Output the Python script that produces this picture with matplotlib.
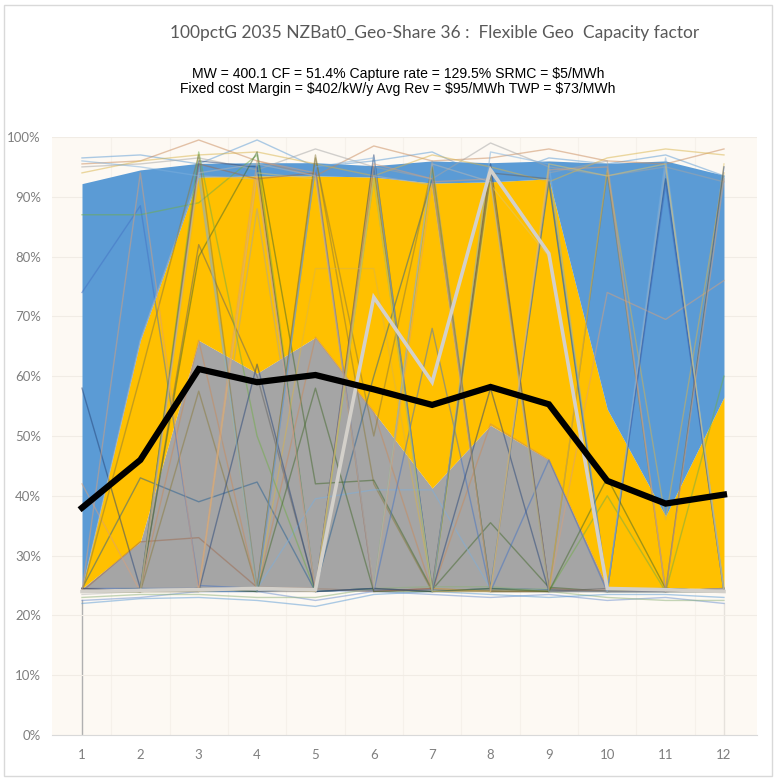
import matplotlib
matplotlib.use("Agg")
import matplotlib.pyplot as plt
from matplotlib.patches import Rectangle
from matplotlib.ticker import PercentFormatter

# Months on the category axis
months = list(range(1, 13))
month_labels = [str(m) for m in months]

# Band boundaries of the capacity-factor distribution (fraction of capacity)
band_base = [0.245, 0.243, 0.242, 0.243, 0.243, 0.240, 0.243, 0.240, 0.241, 0.245, 0.244, 0.245]
grey_top = [0.245, 0.323, 0.660, 0.605, 0.665, 0.540, 0.413, 0.518, 0.460, 0.246, 0.245, 0.246]
yellow_top = [0.246, 0.660, 0.933, 0.935, 0.935, 0.933, 0.923, 0.925, 0.930, 0.545, 0.366, 0.565]
blue_top = [0.922, 0.945, 0.956, 0.957, 0.957, 0.952, 0.960, 0.957, 0.960, 0.956, 0.960, 0.936]

# Monthly average capacity factor
average_cf = [0.380, 0.460, 0.612, 0.590, 0.602, 0.578, 0.552, 0.582, 0.553, 0.425, 0.387, 0.402]

# Highlighted weather year
highlight_year = [0.240, 0.242, 0.243, 0.245, 0.243, 0.732, 0.590, 0.945, 0.805, 0.245, 0.243, 0.240]

# Individual weather years (percent)
weather_years = [
    [96.5, 97.0, 95.5, 99.5, 95.0, 96.0, 97.5, 93.0, 96.5, 95.5, 97.0, 93.5],
    [95.5, 96.0, 99.5, 96.0, 93.5, 98.5, 96.0, 96.5, 98.0, 96.0, 95.5, 98.0],
    [95.0, 95.5, 96.5, 94.5, 98.0, 95.0, 93.0, 99.0, 95.0, 93.5, 95.0, 92.5],
    [94.0, 96.0, 97.0, 97.5, 95.5, 93.5, 97.0, 95.0, 92.5, 96.5, 98.0, 97.0],
    [74.0, 88.5, 25.0, 24.5, 24.0, 24.2, 24.3, 24.0, 24.0, 24.2, 24.5, 24.0],
    [87.0, 87.0, 89.0, 97.0, 24.0, 24.5, 95.0, 24.0, 24.5, 24.0, 24.0, 24.0],
    [24.5, 43.0, 39.0, 42.3, 24.0, 24.5, 24.0, 24.5, 24.3, 24.0, 24.0, 24.2],
    [24.0, 32.3, 33.0, 24.7, 24.5, 24.0, 24.5, 24.0, 24.0, 24.3, 24.5, 24.0],
    [24.5, 24.0, 82.0, 60.0, 24.3, 95.0, 24.5, 94.0, 93.0, 24.5, 24.0, 24.5],
    [24.0, 24.0, 57.5, 24.5, 97.0, 42.0, 24.0, 24.2, 24.0, 94.0, 24.0, 24.0],
    [58.0, 24.5, 96.0, 95.0, 24.0, 97.0, 24.0, 95.5, 24.5, 24.0, 93.0, 24.0],
    [24.0, 24.5, 80.0, 97.5, 42.0, 42.6, 24.3, 35.5, 24.7, 24.0, 24.5, 24.0],
    [24.0, 24.0, 95.0, 24.5, 39.5, 41.0, 41.0, 24.5, 93.0, 24.0, 24.0, 24.0],
    [42.0, 24.0, 24.5, 96.0, 94.0, 24.0, 92.5, 93.0, 24.0, 74.0, 69.5, 76.0],
    [24.0, 66.0, 93.5, 93.0, 24.5, 93.5, 92.0, 24.0, 24.5, 24.0, 95.0, 24.5],
    [24.5, 24.0, 24.0, 94.0, 93.0, 24.5, 24.0, 92.0, 80.0, 24.0, 24.0, 95.5],
    [22.5, 23.0, 24.0, 24.0, 22.5, 24.0, 23.5, 23.0, 23.5, 22.5, 23.0, 22.0],
    [23.0, 23.5, 23.5, 23.0, 23.0, 24.5, 24.8, 24.8, 24.0, 23.0, 22.5, 22.5],
    [22.0, 22.8, 23.0, 22.5, 21.5, 23.5, 24.0, 23.5, 23.0, 23.5, 23.5, 23.0],
    [24.0, 24.5, 66.0, 24.0, 66.5, 54.0, 24.0, 52.0, 46.0, 24.5, 24.0, 24.5],
    [24.5, 24.0, 24.0, 88.0, 24.5, 24.0, 96.0, 24.0, 94.0, 96.0, 24.0, 24.0],
    [24.0, 24.0, 93.0, 24.0, 78.0, 78.0, 24.5, 24.0, 24.0, 94.5, 36.0, 94.0],
    [24.5, 24.5, 24.5, 24.0, 95.0, 24.0, 68.0, 24.0, 46.0, 24.0, 92.0, 24.0],
    [24.0, 24.0, 97.5, 50.0, 24.0, 93.0, 24.0, 93.5, 24.0, 40.0, 24.0, 60.0],
    [24.0, 24.5, 24.0, 24.0, 24.5, 60.0, 93.0, 24.5, 92.5, 24.0, 24.0, 24.0],
    [24.5, 24.0, 95.5, 93.0, 94.0, 24.0, 24.5, 94.0, 24.5, 24.0, 24.0, 24.0],
    [24.0, 24.0, 24.5, 24.0, 24.0, 24.5, 24.0, 24.0, 24.0, 24.5, 24.0, 24.5],
    [24.0, 60.0, 97.0, 24.5, 96.5, 50.0, 95.0, 24.0, 24.0, 24.0, 24.5, 24.0],
    [24.5, 24.0, 24.0, 62.0, 24.0, 24.5, 24.0, 58.0, 24.0, 24.0, 24.0, 95.0],
    [24.0, 24.0, 24.5, 24.0, 58.0, 24.0, 24.0, 24.5, 24.0, 43.0, 24.5, 24.0],
    [96.0, 95.0, 93.5, 24.0, 95.0, 96.5, 24.0, 97.5, 95.5, 24.0, 96.5, 24.0],
    [24.0, 94.0, 24.0, 93.5, 24.0, 95.5, 93.0, 24.0, 94.5, 95.0, 24.0, 93.0],
    [23.5, 24.0, 94.0, 95.5, 93.5, 24.5, 95.5, 92.5, 24.0, 24.0, 24.0, 24.5],
    [24.0, 24.0, 24.0, 24.5, 24.0, 93.0, 24.0, 24.0, 95.5, 93.5, 95.5, 24.0],
]

line_colors = ["#5B9BD5", "#C98A5A", "#A5A5A5", "#D9B44A", "#4472C4", "#70AD47",
               "#255E91", "#9E6A4E", "#636363", "#8A7A3A", "#264478", "#43682B",
               "#7CAFDD", "#D9A07A", "#B7B7B7", "#E0C56A", "#698ED0", "#8CB078"]

title = "100pctG 2035 NZBat0_Geo-Share 36 :  Flexible Geo  Capacity factor"
subtitle = ("MW = 400.1 CF = 51.4% Capture rate = 129.5% SRMC = $5/MWh\n"
            "Fixed cost Margin = $402/kW/y Avg Rev = $95/MWh TWP = $73/MWh")

W, H = 777, 780
fig = plt.figure(figsize=(W / 100, H / 100), dpi=100, facecolor="white")

# Chart frame
fig.patches.append(Rectangle((4 / W, 4 / H), (W - 9) / W, (H - 9) / H,
                             transform=fig.transFigure, fill=False,
                             edgecolor="#D9D9D9", linewidth=1.0))

ax = fig.add_axes([52 / W, 1 - 735 / H, 705 / W, 598 / H])
ax.set_facecolor("#FDF9F3")

# Stacked bands
ax.fill_between(months, band_base, grey_top, color="#A5A5A5", linewidth=0, zorder=2)
ax.fill_between(months, grey_top, yellow_top, color="#FFC000", linewidth=0, zorder=2)
ax.fill_between(months, yellow_top, blue_top, color="#5B9BD5", linewidth=0, zorder=2)

# Individual years
for i, yr in enumerate(weather_years):
    ax.plot(months, [v / 100 for v in yr], color=line_colors[i % len(line_colors)],
            alpha=0.5, linewidth=1.0, zorder=3)

ax.plot(months, highlight_year, color="#D3D0CA", linewidth=2.6, zorder=4,
        solid_joinstyle="miter")
ax.plot(months, average_cf, color="black", linewidth=4.5, zorder=5,
        solid_joinstyle="miter")

# Edge rules at the first and last month
ax.plot([1, 1], [0, 0.225], color="#B0B0B0", linewidth=1.0, zorder=1)
ax.plot([12, 12], [0, 0.22], color="#E6E2DC", linewidth=1.0, zorder=1)

ax.set_xlim(0.486, 12.566)
ax.set_ylim(0, 1.0)
ax.set_yticks([i / 10 for i in range(11)])
ax.yaxis.set_major_formatter(PercentFormatter(1.0, decimals=0))
ax.set_xticks(months)
ax.set_xticklabels(month_labels)

ax.grid(axis="y", color="#F1ECE5", linewidth=0.8, zorder=0)
for m in months[:-1]:
    ax.axvline(m + 0.5, color="#F6F1EA", linewidth=0.8, zorder=0)

for s in ["top", "right", "left"]:
    ax.spines[s].set_visible(False)
ax.spines["bottom"].set_color("#D9D9D9")
ax.tick_params(length=0, labelsize=9.5, colors="#7F7F7F", pad=10)
ax.tick_params(axis="y", pad=8)
for lab in ax.get_xticklabels() + ax.get_yticklabels():
    lab.set_fontfamily("Lato")
    lab.set_color("#7F7F7F")

fig.text(435 / W, 1 - 33 / H, title, ha="center", va="center",
         fontsize=12.5, color="#595959", family="Lato")
fig.text(398 / W, 1 - 81.5 / H, subtitle, ha="center", va="center",
         fontsize=10.1, color="black", family="Liberation Sans", linespacing=1.05)

fig.savefig("out.png", dpi=100, facecolor="white")
